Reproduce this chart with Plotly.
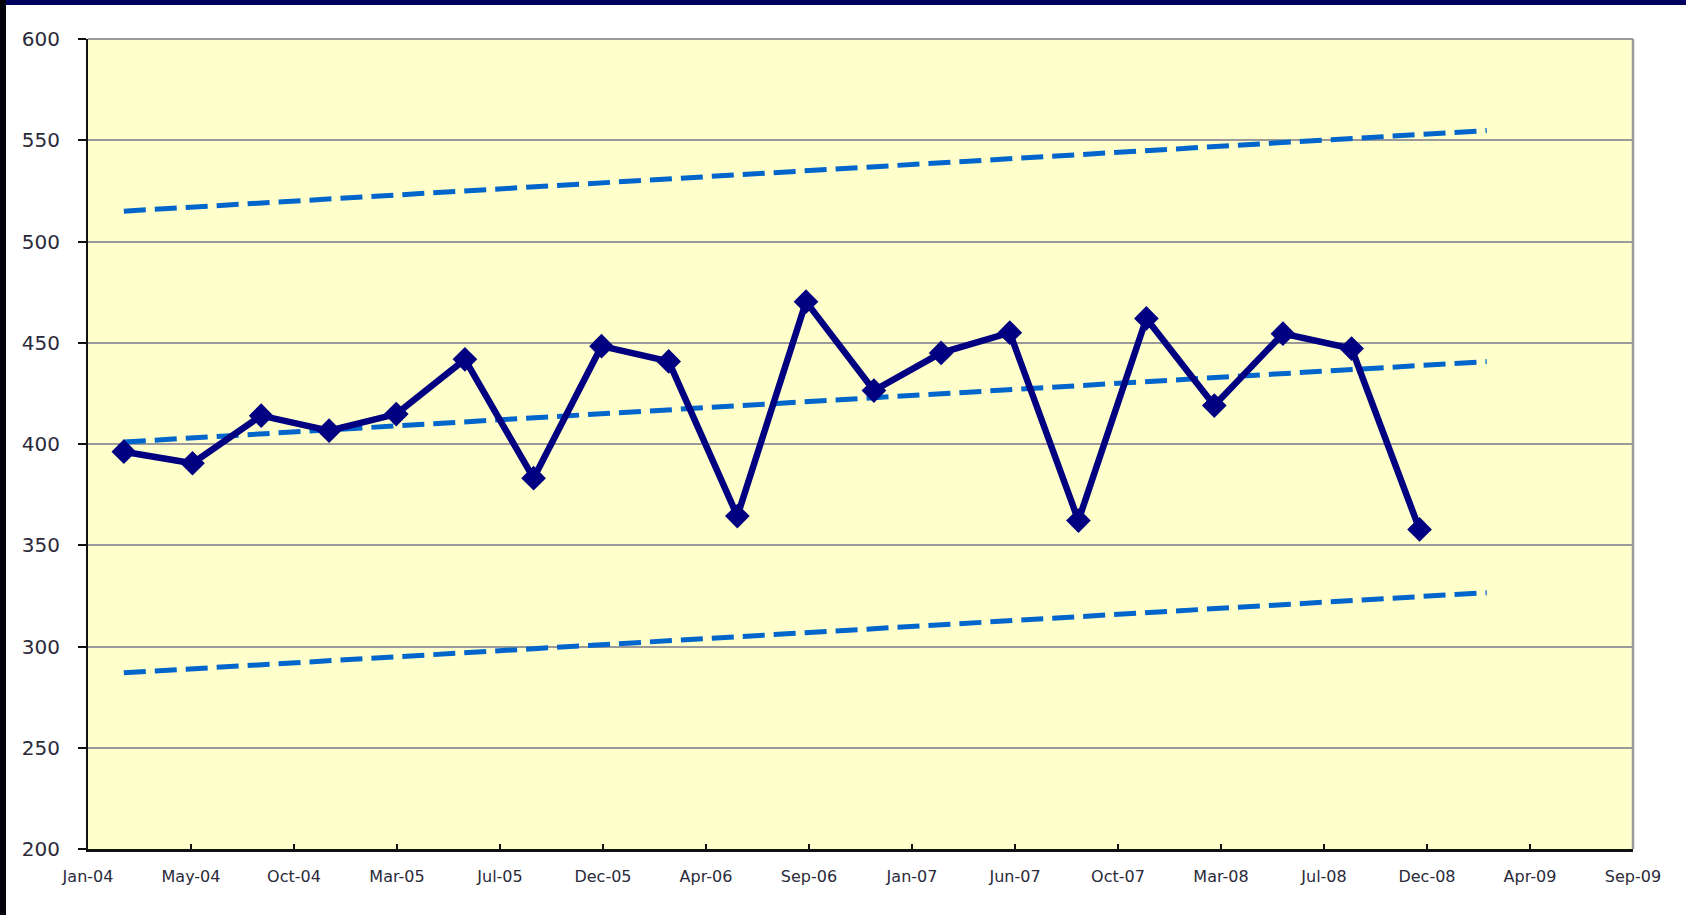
import pandas as pd
import plotly.graph_objects as go

# Quarterly observations
dates = [
    "2004-03-01", "2004-06-01", "2004-09-01", "2004-12-01",
    "2005-03-01", "2005-06-01", "2005-09-01", "2005-12-01",
    "2006-03-01", "2006-06-01", "2006-09-01", "2006-12-01",
    "2007-03-01", "2007-06-01", "2007-09-01", "2007-12-01",
    "2008-03-01", "2008-06-01", "2008-09-01", "2008-12-01",
]
values = [
    396.2, 390.5, 414.0, 406.6, 414.8, 441.8, 383.1, 448.3, 440.8, 364.4,
    470.3, 426.4, 445.0, 455.0, 362.2, 462.0, 419.0, 454.5, 447.1, 357.8,
]

# Trend and control bands, projected one quarter ahead
trend_dates = ["2004-03-01", "2009-03-01"]
trend_mid = [401.0, 440.7]
trend_upper = [515.0, 554.8]
trend_lower = [287.0, 326.6]

# Date axis: ticks every 138 days from the axis origin
axis_start = pd.Timestamp("2004-01-13")
tick_step_days = 138
tick_labels = [
    "Jan-04", "May-04", "Oct-04", "Mar-05", "Jul-05", "Dec-05", "Apr-06", "Sep-06",
    "Jan-07", "Jun-07", "Oct-07", "Mar-08", "Jul-08", "Dec-08", "Apr-09", "Sep-09",
]
tick_positions = [axis_start + pd.Timedelta(days=tick_step_days * i) for i in range(len(tick_labels))]
axis_end = tick_positions[-1]

y_ticks = [200, 250, 300, 350, 400, 450, 500, 550, 600]

W, H = 1686, 915
ML, MR, MT, MB = 88, 53, 39, 66
PW, PH = W - ML - MR, H - MT - MB

fig = go.Figure()

band_style = dict(color="#0066CC", width=5, dash="22px,9px")
for ys in (trend_upper, trend_mid, trend_lower):
    fig.add_trace(go.Scatter(x=trend_dates, y=ys, mode="lines", line=band_style,
                             hoverinfo="skip", showlegend=False))

fig.add_trace(go.Scatter(
    x=dates, y=values, mode="lines+markers",
    line=dict(color="#000080", width=6.5),
    marker=dict(symbol="diamond", size=19, color="#000080", line=dict(width=0)),
    showlegend=False,
))

# Page frame: dark strip along the top, black strip down the left edge
fig.add_shape(type="rect", xref="paper", yref="paper",
              x0=-ML / PW, x1=(W - ML) / PW, y0=1 + (MT - 5) / PH, y1=1 + MT / PH,
              fillcolor="#000060", line_width=0, layer="above")
fig.add_shape(type="rect", xref="paper", yref="paper",
              x0=-ML / PW, x1=(6 - ML) / PW, y0=-MB / PH, y1=1 + MT / PH,
              fillcolor="#02020c", line_width=0, layer="above")
# Top and right plot borders
fig.add_shape(type="line", xref="paper", yref="paper", x0=0, x1=1, y0=1, y1=1,
              line=dict(color="#9a9a9a", width=2), layer="above")
fig.add_shape(type="line", xref="paper", yref="paper", x0=1, x1=1, y0=0, y1=1,
              line=dict(color="#9a9a9a", width=2.5), layer="above")

fig.update_layout(
    width=W, height=H,
    margin=dict(l=ML, r=MR, t=MT, b=MB, pad=0),
    paper_bgcolor="white",
    plot_bgcolor="#FFFFCC",
    showlegend=False,
    xaxis=dict(
        type="date",
        range=[axis_start, axis_end],
        tickmode="array", tickvals=tick_positions, ticktext=tick_labels,
        ticks="inside", ticklen=5, tickwidth=1.5, tickcolor="#111111",
        showgrid=False, zeroline=False,
        showline=True, linecolor="#111111", linewidth=2.5,
        tickfont=dict(family="DejaVu Sans", size=16, color="#2a2a3a"),
        ticklabelstandoff=11,
    ),
    yaxis=dict(
        range=[200, 600],
        tickmode="array", tickvals=y_ticks, ticktext=[str(v) for v in y_ticks],
        ticks="outside", ticklen=8, tickwidth=1.5, tickcolor="#111111",
        showgrid=True, gridcolor="#9a9a9a", gridwidth=2,
        zeroline=False,
        showline=True, linecolor="#111111", linewidth=2,
        tickfont=dict(family="DejaVu Sans", size=20, color="#2a2a3a"),
        ticklabelstandoff=14,
    ),
)

fig.write_html("out.html")
